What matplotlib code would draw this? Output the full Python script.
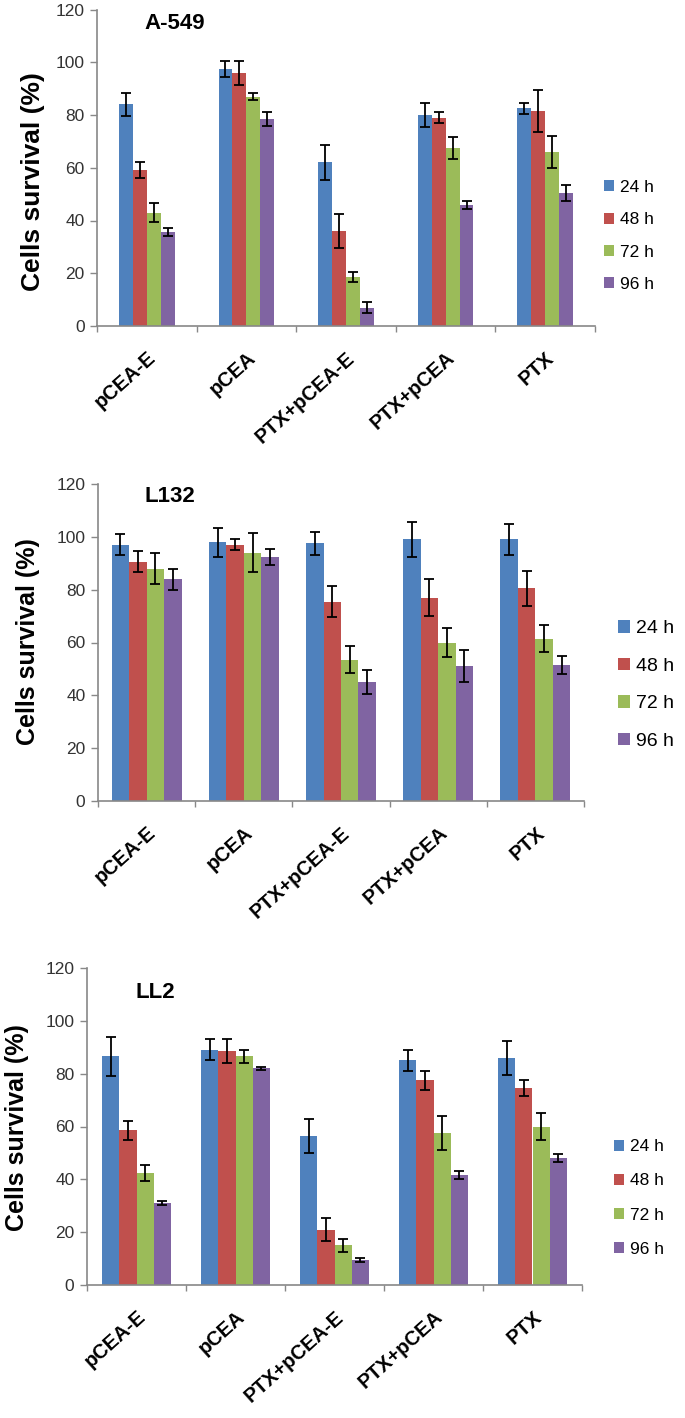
import matplotlib
matplotlib.use("Agg")
import matplotlib.pyplot as plt
import numpy as np
from matplotlib.patches import Patch

plt.rcParams['font.family'] = ['Liberation Sans', 'DejaVu Sans']

categories = ["pCEA-E", "pCEA", "PTX+pCEA-E", "PTX+pCEA", "PTX"]
series = ["24 h", "48 h", "72 h", "96 h"]
colors = ["#4F81BD", "#C0504D", "#9BBB59", "#8064A2"]

# A-549
a549_24 = [84, 97.5, 62, 80, 82.5]
a549_48 = [59, 96, 36, 79, 81.5]
a549_72 = [43, 87, 18.5, 67.5, 66]
a549_96 = [35.5, 78.5, 7, 46, 50.5]
a549_err24 = [4.5, 3, 6.5, 4.5, 2]
a549_err48 = [3, 4.5, 6.5, 2, 8]
a549_err72 = [3.5, 1.5, 2, 4, 6]
a549_err96 = [1.5, 2.5, 2, 1.5, 3]

# L132
l132_24 = [97, 98, 97.5, 99, 99]
l132_48 = [90.5, 97, 75.5, 77, 80.5]
l132_72 = [88, 94, 53.5, 60, 61.5]
l132_96 = [84, 92.5, 45, 51, 51.5]
l132_err24 = [4, 5.5, 4.5, 6.5, 6]
l132_err48 = [4, 2, 6, 7, 6.5]
l132_err72 = [6, 7.5, 5, 5.5, 5]
l132_err96 = [4, 3, 4.5, 6, 3.5]

# LL2
ll2_24 = [86.5, 89, 56.5, 85, 86]
ll2_48 = [58.5, 88.5, 21, 77.5, 74.5]
ll2_72 = [42.5, 86.5, 15, 57.5, 60]
ll2_96 = [31, 82, 9.5, 41.5, 48]
ll2_err24 = [7.5, 4, 6.5, 4, 6.5]
ll2_err48 = [3.5, 4.5, 4.5, 3.5, 3]
ll2_err72 = [3, 2.5, 2.5, 6.5, 5]
ll2_err96 = [0.7, 0.7, 0.7, 1.5, 1.5]

yticks = [0, 20, 40, 60, 80, 100, 120]

W, H = 685, 1418
fig = plt.figure(figsize=(W / 100, H / 100), dpi=100)

panels = [
    dict(title="A-549", vals=[a549_24, a549_48, a549_72, a549_96],
         errs=[a549_err24, a549_err48, a549_err72, a549_err96],
         box=(97, 595, 9.5, 326), barw=0.14, title_xy=(0.095, 0.955),
         leg=(604, 236), leg_fs=12.5, leg_sp=1.0, ylab=(33, 182), ylab_fs=19),
    dict(title="L132", vals=[l132_24, l132_48, l132_72, l132_96],
         errs=[l132_err24, l132_err48, l132_err72, l132_err96],
         box=(98, 584, 484, 801), barw=0.18, title_xy=(0.095, 0.962),
         leg=(618, 685), leg_fs=14, leg_sp=1.05, ylab=(28, 642), ylab_fs=18),
    dict(title="LL2", vals=[ll2_24, ll2_48, ll2_72, ll2_96],
         errs=[ll2_err24, ll2_err48, ll2_err72, ll2_err96],
         box=(87, 582, 968, 1285), barw=0.175, title_xy=(0.097, 0.924),
         leg=(614, 1198), leg_fs=12.5, leg_sp=1.1, ylab=(17, 1128), ylab_fs=18),
]

x = np.arange(len(categories))
for p in panels:
    l, r, t, b = p["box"]
    ax = fig.add_axes([l / W, 1 - b / H, (r - l) / W, (b - t) / H])
    bw = p["barw"]
    for i, (vals, errs) in enumerate(zip(p["vals"], p["errs"])):
        xs = x + (i - 1.5) * bw
        ax.bar(xs, vals, width=bw, color=colors[i], edgecolor="none", zorder=2)
        ax.errorbar(xs, vals, yerr=errs, fmt="none", ecolor="black",
                    elinewidth=1.3, capsize=3.5, capthick=1.3, zorder=3)
    ax.set_xlim(-0.5, len(categories) - 0.5)
    ax.set_ylim(0, 120)
    ax.set_yticks(yticks)
    ax.tick_params(axis="y", labelsize=12.5, labelcolor="#333333", color="#888888",
                   length=5, width=1, direction="out", pad=4)
    ax.set_xticks(x)
    ax.set_xticklabels(categories, rotation=42, ha="right", va="top",
                       rotation_mode="anchor", fontsize=14.5, fontweight="bold")
    ax.tick_params(axis="x", length=0, pad=16)
    ax.set_xticks(np.arange(-0.5, len(categories)), minor=True)
    ax.tick_params(axis="x", which="minor", length=4, color="#888888", width=1)
    for s in ["top", "right"]:
        ax.spines[s].set_visible(False)
    for s in ["left", "bottom"]:
        ax.spines[s].set_color("#888888")
        ax.spines[s].set_linewidth(1.2)
    ax.text(p["title_xy"][0], p["title_xy"][1], p["title"], transform=ax.transAxes,
            fontsize=16, fontweight="bold", ha="left", va="center")
    handles = [Patch(facecolor=c, edgecolor="none") for c in colors]
    ax.legend(handles, series, loc="center left",
              bbox_to_anchor=(p["leg"][0] / W, 1 - p["leg"][1] / H),
              bbox_transform=fig.transFigure, frameon=False,
              fontsize=p["leg_fs"], handlelength=0.6, handleheight=0.6,
              handletextpad=0.3, labelspacing=p["leg_sp"], borderpad=0,
              borderaxespad=0)
    fig.text(p["ylab"][0] / W, 1 - p["ylab"][1] / H, "Cells survival (%)",
             rotation=90, ha="center", va="center", fontsize=p["ylab_fs"],
             fontweight="bold")

fig.savefig("out.png", dpi=100)
